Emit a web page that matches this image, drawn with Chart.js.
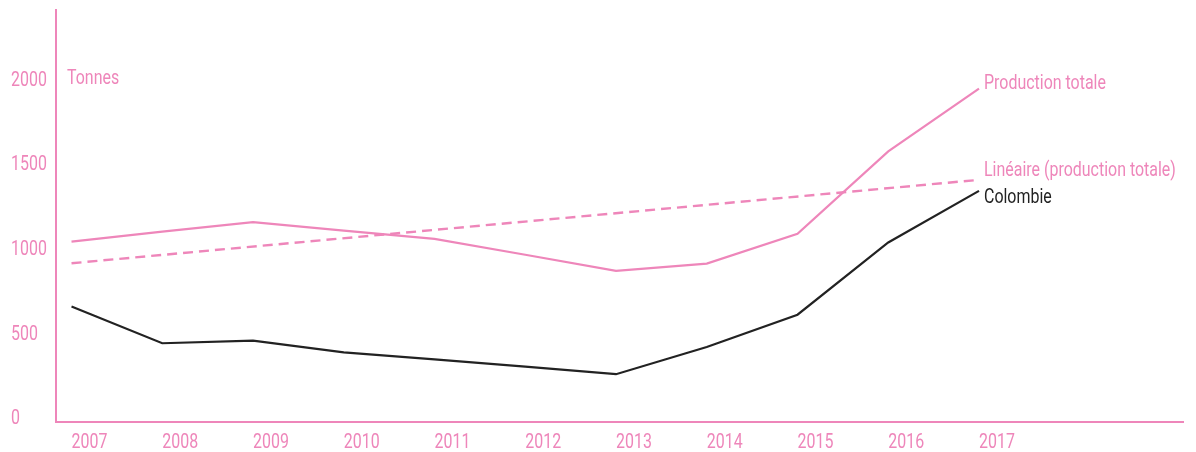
<!DOCTYPE html>
<html>
<head>
<meta charset="utf-8">
<script src="https://cdn.jsdelivr.net/npm/chart.js@4"></script>
<style>
    html, body { margin: 0; padding: 0; background: #fff; }
    #wrap { width: 1196px; height: 452px; }
</style>
</head>
<body>
<div id="wrap"><canvas id="productionChart"></canvas></div>
<script>
const years = [2007, 2008, 2009, 2010, 2011, 2012, 2013, 2014, 2015, 2016, 2017];
const productionTotale = [1031, 1090, 1146, 1096, 1047, 953, 858, 901, 1077, 1564, 1935];
const colombie = [647, 430, 446, 376, 335, 292, 247, 408, 599, 1026, 1331];
const trendYears = [2007, 2017];
const trendValues = [903, 1396];
const yTicks = [0, 500, 1000, 1500, 2000];

const pink = "#EE86BA";
const dark = "#222222";
const fontCss = "21px Roboto, 'DejaVu Sans', sans-serif";
const squeeze = 0.76; // police condensée simulée

const toPoints = (xs, ys) => xs.map((x, i) => ({ x: x, y: ys[i] }));

function narrowText(ctx, text, x, y, color) {
    ctx.save();
    ctx.translate(x, y + 3);
    ctx.scale(squeeze, 1);
    ctx.font = fontCss;
    ctx.textAlign = "left";
    ctx.textBaseline = "middle";
    ctx.fillStyle = color;
    ctx.fillText(text, 0, 0);
    ctx.restore();
}

// graduations, unité et libellés en bout de courbe
const textLayer = {
    id: "textLayer",
    afterDraw(chart) {
        const { ctx, scales, chartArea } = chart;
        scales.y.ticks.forEach((t) => {
            narrowText(ctx, String(t.value), 11, scales.y.getPixelForValue(t.value), pink);
        });
        scales.x.ticks.forEach((t) => {
            narrowText(ctx, String(t.value), scales.x.getPixelForValue(t.value), chartArea.bottom + 18, pink);
        });
        narrowText(ctx, "Tonnes", chartArea.left + 11, scales.y.getPixelForValue(2000) - 2, pink);
        chart.data.datasets.forEach((ds, i) => {
            const meta = chart.getDatasetMeta(i);
            const last = meta.data[meta.data.length - 1];
            narrowText(ctx, ds.label, last.x + 5, last.y + ds.labelDy, ds.borderColor);
        });
    },
};

const ctx = document.getElementById("productionChart").getContext("2d");

new Chart(ctx, {
    type: "line",
    data: {
        datasets: [
            {
                label: "Production totale",
                data: toPoints(years, productionTotale),
                borderColor: pink,
                borderWidth: 2.2,
                labelDy: -8,
            },
            {
                label: "Linéaire (production totale)",
                data: toPoints(trendYears, trendValues),
                borderColor: pink,
                borderWidth: 2.4,
                borderDash: [10, 6],
                labelDy: -12,
            },
            {
                label: "Colombie",
                data: toPoints(years, colombie),
                borderColor: dark,
                borderWidth: 2.2,
                labelDy: 4,
            },
        ],
    },
    options: {
        responsive: true,
        maintainAspectRatio: false,
        animation: false,
        layout: { padding: { left: 11, top: 10, right: 13, bottom: 0 } },
        elements: {
            point: { radius: 0 },
            line: { tension: 0, borderCapStyle: "butt" },
        },
        plugins: {
            legend: { display: false },
            tooltip: { enabled: false },
        },
        scales: {
            x: {
                type: "linear",
                min: 2006.829,
                max: 2019.248,
                afterBuildTicks: (s) => {
                    s.ticks = years.map((v) => ({ value: v }));
                },
                afterFit: (s) => {
                    s.height = 30;
                },
                grid: { display: false, drawTicks: false },
                border: { display: true, color: pink, width: 2 },
                ticks: { display: false },
            },
            y: {
                min: -35.5,
                max: 2400,
                afterBuildTicks: (s) => {
                    s.ticks = yTicks.map((v) => ({ value: v }));
                },
                afterFit: (s) => {
                    s.width = 45;
                },
                grid: { display: false, drawTicks: false },
                border: { display: true, color: pink, width: 2 },
                ticks: { display: false },
            },
        },
    },
    plugins: [textLayer],
});
</script>
</body>
</html>
